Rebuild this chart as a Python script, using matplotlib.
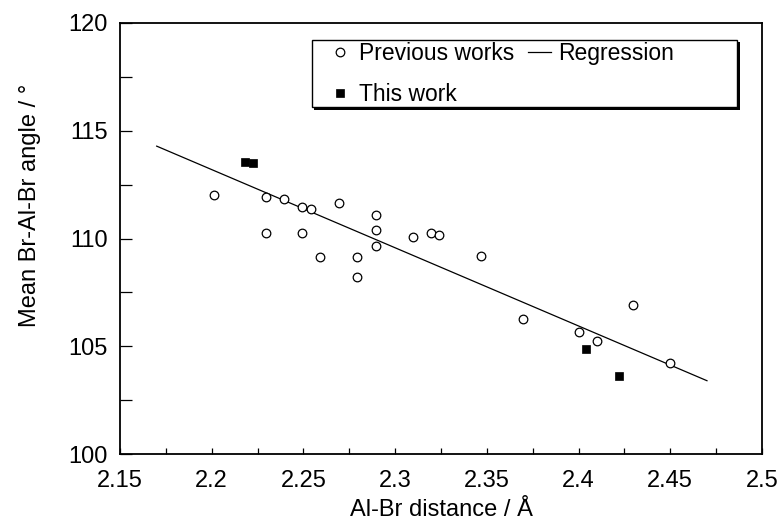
import matplotlib
matplotlib.use("Agg")
from matplotlib import pyplot as plt
from matplotlib.patches import Rectangle
from matplotlib.lines import Line2D
from matplotlib.ticker import MultipleLocator, FormatStrFormatter

plt.rcParams['font.family'] = ['Liberation Sans', 'DejaVu Sans']

# previous works (open circles)
prev_x = [2.201, 2.2295, 2.2295, 2.2394, 2.249, 2.249, 2.2542, 2.2593, 2.2695, 2.2793,
          2.2793, 2.2894, 2.2894, 2.2894, 2.3098, 2.3198, 2.324, 2.3466, 2.3699, 2.400,
          2.410, 2.4299, 2.4496]
prev_y = [112.0, 111.93, 110.24, 111.81, 111.44, 110.24, 111.38, 109.15, 111.64, 109.12,
          108.22, 111.09, 110.39, 109.65, 110.05, 110.24, 110.14, 109.2, 106.25, 105.66,
          105.23, 106.9, 104.21]

# this work (filled squares)
this_x = [2.218, 2.2225, 2.404, 2.422]
this_y = [113.55, 113.48, 104.89, 103.62]

# regression line end points
reg_x = [2.17, 2.47]
reg_y = [114.28, 103.41]

W, H = 781, 527
fig = plt.figure(figsize=(W / 100, H / 100), dpi=100)
ax_l, ax_r, ax_t, ax_b = 120, 762, 22.7, 454.3
ax = fig.add_axes([ax_l / W, (H - ax_b) / H, (ax_r - ax_l) / W, (ax_b - ax_t) / H])

ax.plot(reg_x, reg_y, color='black', lw=0.9, zorder=2)
ax.plot(prev_x, prev_y, 'o', ms=6.2, mfc='white', mec='black', mew=0.9, zorder=3)
ax.plot(this_x, this_y, 's', ms=6.2, mfc='black', mec='black', mew=0.5, zorder=3)

ax.set_xlim(2.15, 2.5)
ax.set_ylim(100, 120)
ax.xaxis.set_major_locator(MultipleLocator(0.05))
ax.xaxis.set_minor_locator(MultipleLocator(0.025))
ax.yaxis.set_major_locator(MultipleLocator(5))
ax.yaxis.set_minor_locator(MultipleLocator(2.5))
ax.xaxis.set_major_formatter(FormatStrFormatter('%g'))
ax.yaxis.set_major_formatter(FormatStrFormatter('%g'))

ax.tick_params(axis='both', which='both', direction='in', width=0.9, labelsize=17)
ax.tick_params(axis='x', which='both', length=4, pad=11)
ax.tick_params(axis='y', which='both', length=8.5, pad=9)
for s in ax.spines.values():
    s.set_linewidth(1.3)

ax.set_xlabel('Al-Br distance / Å', fontsize=17, labelpad=5)
ax.set_ylabel('Mean Br-Al-Br angle / °', fontsize=17)
ax.yaxis.set_label_coords((41 - ax_l) / (ax_r - ax_l), (ax_b - 205) / (ax_b - ax_t))

# legend box with drop shadow
bx0, bx1, by0, by1 = 312, 737, 40, 107
aw, ah = ax_r - ax_l, ax_b - ax_t
fx0, fx1 = (bx0 - ax_l) / aw, (bx1 - ax_l) / aw
fy0, fy1 = (ax_b - by1) / ah, (ax_b - by0) / ah
ax.add_patch(Rectangle((fx0 + 2.5 / aw, fy0 - 2.5 / ah), fx1 - fx0, fy1 - fy0,
                       transform=ax.transAxes, facecolor='black', edgecolor='black',
                       lw=0, zorder=4, clip_on=False))
ax.add_patch(Rectangle((fx0, fy0), fx1 - fx0, fy1 - fy0, transform=ax.transAxes,
                       facecolor='white', edgecolor='black', lw=1.0, zorder=4.5,
                       clip_on=False))

handles = [
    Line2D([], [], ls='none', marker='o', ms=6.2, mfc='white', mec='black', mew=0.9),
    Line2D([], [], ls='none', marker='s', ms=6.2, mfc='black', mec='black', mew=0.5),
    Line2D([], [], color='black', lw=0.9),
]
labels = ['Previous works', 'This work', 'Regression']
ax.legend(handles, labels, ncol=2, frameon=False, fontsize=16.5, loc='upper left',
          bbox_to_anchor=((329 - ax_l) / aw, (ax_b - 42) / ah), borderpad=0,
          handlelength=1.0, handletextpad=0.32, columnspacing=0.6,
          labelspacing=0.8, borderaxespad=0)

fig.savefig('out.png', dpi=100)
